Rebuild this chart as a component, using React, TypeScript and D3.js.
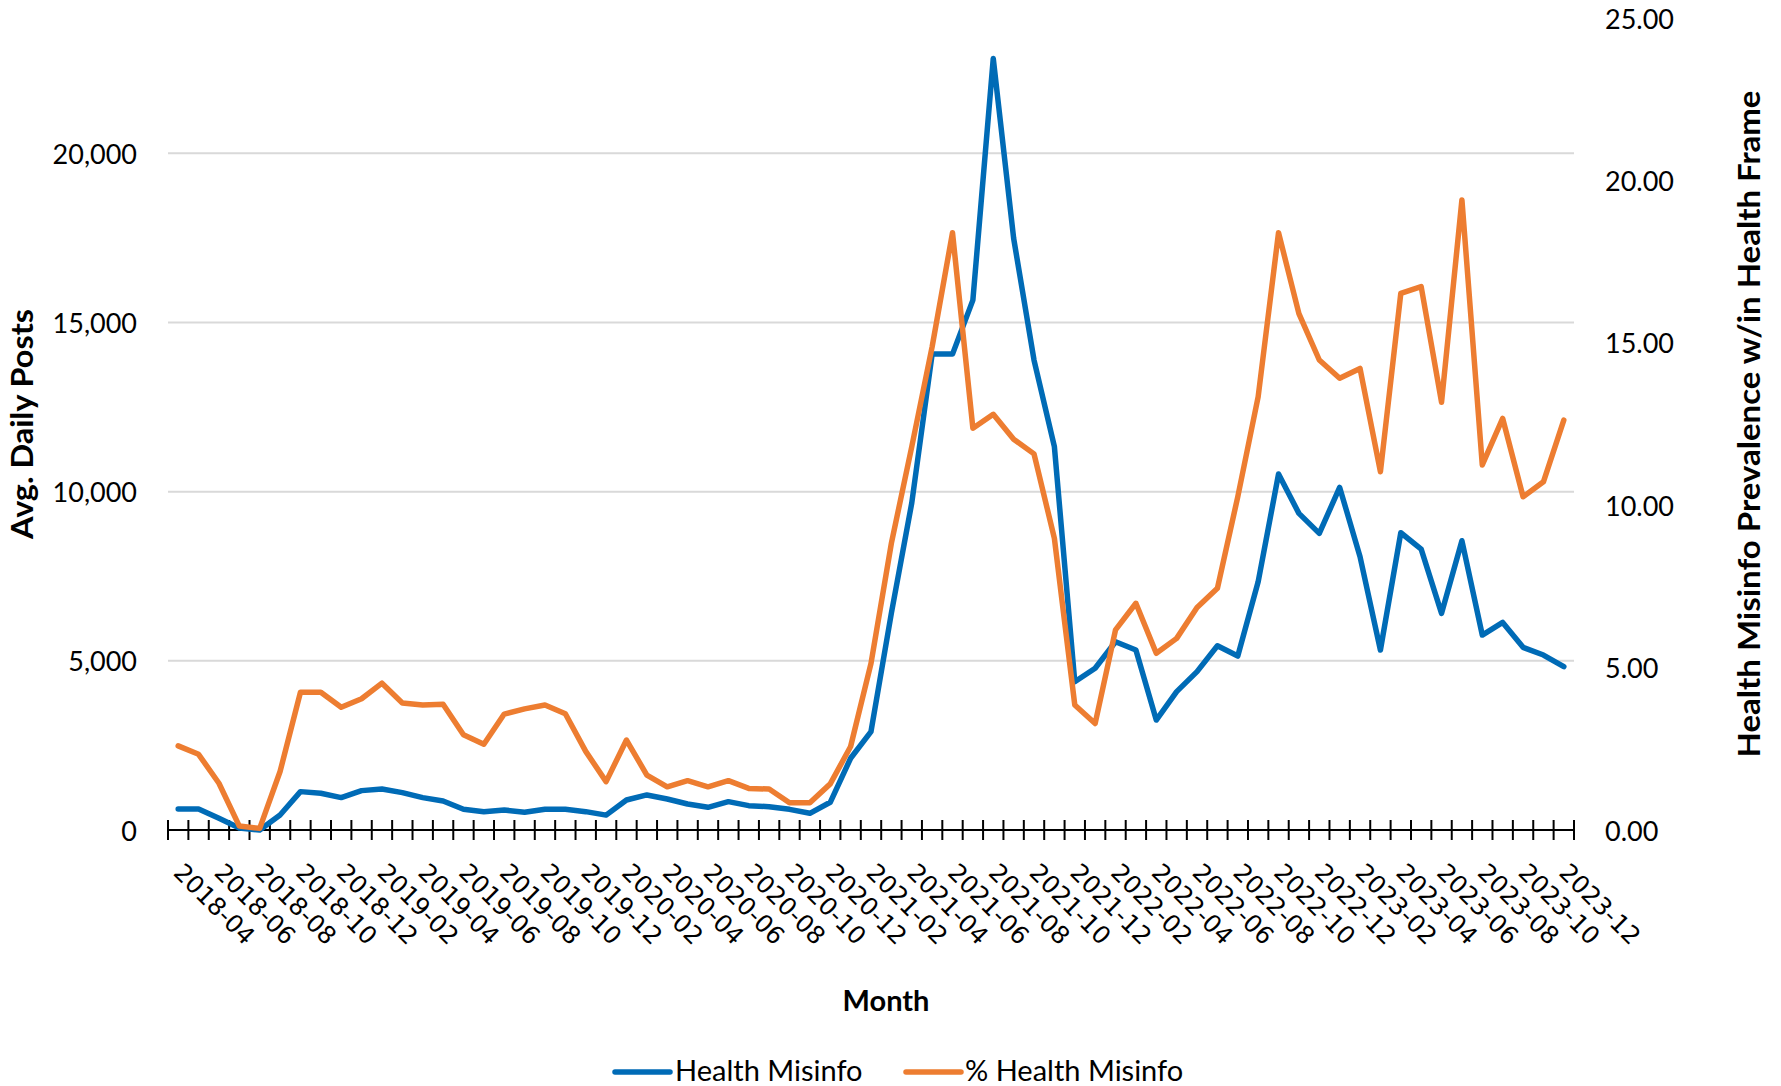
import React from "react";
import * as d3 from "d3";

const months = [
  "2018-04","2018-05","2018-06","2018-07","2018-08","2018-09","2018-10","2018-11","2018-12",
  "2019-01","2019-02","2019-03","2019-04","2019-05","2019-06","2019-07","2019-08","2019-09","2019-10","2019-11","2019-12",
  "2020-01","2020-02","2020-03","2020-04","2020-05","2020-06","2020-07","2020-08","2020-09","2020-10","2020-11","2020-12",
  "2021-01","2021-02","2021-03","2021-04","2021-05","2021-06","2021-07","2021-08","2021-09","2021-10","2021-11","2021-12",
  "2022-01","2022-02","2022-03","2022-04","2022-05","2022-06","2022-07","2022-08","2022-09","2022-10","2022-11","2022-12",
  "2023-01","2023-02","2023-03","2023-04","2023-05","2023-06","2023-07","2023-08","2023-09","2023-10","2023-11","2023-12",
];

const healthMisinfo = [
  621, 621, 345, 60, 0, 444, 1134, 1085, 957, 1164,
  1213, 1105, 957, 858, 611, 542, 592, 523, 611, 611,
  542, 440, 888, 1036, 917, 769, 671, 838, 720, 690,
  611, 493, 819, 2120, 2909, 6410, 9665, 14066, 14066, 15662,
  22800, 17490, 13890, 11330, 4383, 4780, 5565, 5320, 3250, 4090,
  4680, 5447, 5142, 7336, 10520, 9358, 8767, 10126, 8077, 5319,
  8786, 8303, 6403, 8549, 5762, 6135, 5399, 5171, 4826,
];

const pctHealthMisinfo = [
  2.59, 2.33, 1.44, 0.12, 0.05, 1.8, 4.24, 4.24, 3.78, 4.04,
  4.52, 3.91, 3.85, 3.87, 2.93, 2.64, 3.57, 3.73, 3.85, 3.58,
  2.42, 1.49, 2.77, 1.69, 1.33, 1.52, 1.33, 1.52, 1.28, 1.26,
  0.84, 0.84, 1.42, 2.57, 5.13, 8.83, 11.8, 14.88, 18.39, 12.37,
  12.8, 12.03, 11.58, 8.98, 3.85, 3.28, 6.16, 6.98, 5.44, 5.9,
  6.85, 7.44, 10.26, 13.34, 18.39, 15.9, 14.47, 13.91, 14.21, 11.03,
  16.52, 16.73, 13.17, 19.4, 11.24, 12.67, 10.26, 10.72, 12.62,
];

const leftTicks = [0, 5000, 10000, 15000, 20000];
const rightTicks = [0, 5, 10, 15, 20, 25];

const W = 1781;
const H = 1086;
const PL = 168, PR = 1574, PB = 830, PT = 18;
const BLUE = "#006BB6";
const ORANGE = "#ED7D31";
const FONT = "Lato, 'Open Sans', sans-serif";

export default function App() {
  const x = d3.scaleBand<string>().domain(months).range([PL, PR]).paddingInner(0).paddingOuter(0);
  const cx = (m: string) => (x(m) as number) + x.bandwidth() / 2;
  const yL = d3.scaleLinear().domain([0, 24000]).range([PB, PT]);
  const yR = d3.scaleLinear().domain([0, 25]).range([PB, PT]);

  const lineL = d3.line<number>().x((_, i) => cx(months[i])).y((d) => yL(d));
  const lineR = d3.line<number>().x((_, i) => cx(months[i])).y((d) => yR(d));

  const fmtL = d3.format(",");
  const fmtR = d3.format(".2f");

  const tickXs = months.map((m) => x(m) as number).concat([PR]);

  return (
    <svg width={W} height={H} style={{ position: "absolute", left: 0, top: 0, display: "block", background: "#fff" }}>
      {leftTicks.filter((t) => t > 0).map((t) => (
        <line key={"g" + t} x1={PL} x2={PR} y1={yL(t)} y2={yL(t)} stroke="#d9d9d9" strokeWidth={2} />
      ))}
      {leftTicks.map((t) => (
        <text key={"l" + t} x={137} y={yL(t)} textAnchor="end" dominantBaseline="central" fontFamily={FONT} fontSize={27} fill="#000">
          {fmtL(t)}
        </text>
      ))}
      {rightTicks.map((t) => (
        <text key={"r" + t} x={1605} y={yR(t)} textAnchor="start" dominantBaseline="central" fontFamily={FONT} fontSize={27} fill="#000">
          {fmtR(t)}
        </text>
      ))}
      <line x1={PL} x2={PR} y1={PB} y2={PB} stroke="#000" strokeWidth={2} />
      {tickXs.map((tx, i) => (
        <line key={"t" + i} x1={tx} x2={tx} y1={PB - 10} y2={PB + 10} stroke="#000" strokeWidth={2} />
      ))}
      {months.map((m, i) =>
        i % 2 === 0 ? (
          <text
            key={"xl" + m}
            transform={`translate(${cx(m) - 6},${874}) rotate(45)`}
            fontFamily="'DejaVu Sans', sans-serif"
            fontSize={24.5}
            fill="#000"
          >
            {m}
          </text>
        ) : null
      )}
      <path d={lineL(healthMisinfo) || ""} fill="none" stroke={BLUE} strokeWidth={5.5} strokeLinejoin="round" strokeLinecap="round" />
      <path d={lineR(pctHealthMisinfo) || ""} fill="none" stroke={ORANGE} strokeWidth={5.5} strokeLinejoin="round" strokeLinecap="round" />
      <text transform={`translate(33,${(PB + PT) / 2}) rotate(-90)`} textAnchor="middle" fontFamily={FONT} fontWeight="bold" fontSize={30} textLength={230} lengthAdjust="spacingAndGlyphs" fill="#000">
        Avg. Daily Posts
      </text>
      <text transform={`translate(1760,${(PB + PT) / 2}) rotate(-90)`} textAnchor="middle" fontFamily={FONT} fontWeight="bold" fontSize={30} textLength={667} lengthAdjust="spacingAndGlyphs" fill="#000">
        Health Misinfo Prevalence w/in Health Frame
      </text>
      <text x={886} y={1011} textAnchor="middle" fontFamily={FONT} fontWeight="bold" fontSize={29} fill="#000">
        Month
      </text>
      <line x1={615} x2={670} y1={1072} y2={1072} stroke={BLUE} strokeWidth={5.5} strokeLinecap="round" />
      <text x={675} y={1081} fontFamily={FONT} fontSize={29} fill="#000">Health Misinfo</text>
      <line x1={906} x2={961} y1={1072} y2={1072} stroke={ORANGE} strokeWidth={5.5} strokeLinecap="round" />
      <text x={965} y={1081} fontFamily={FONT} fontSize={29} fill="#000">% Health Misinfo</text>
    </svg>
  );
}
